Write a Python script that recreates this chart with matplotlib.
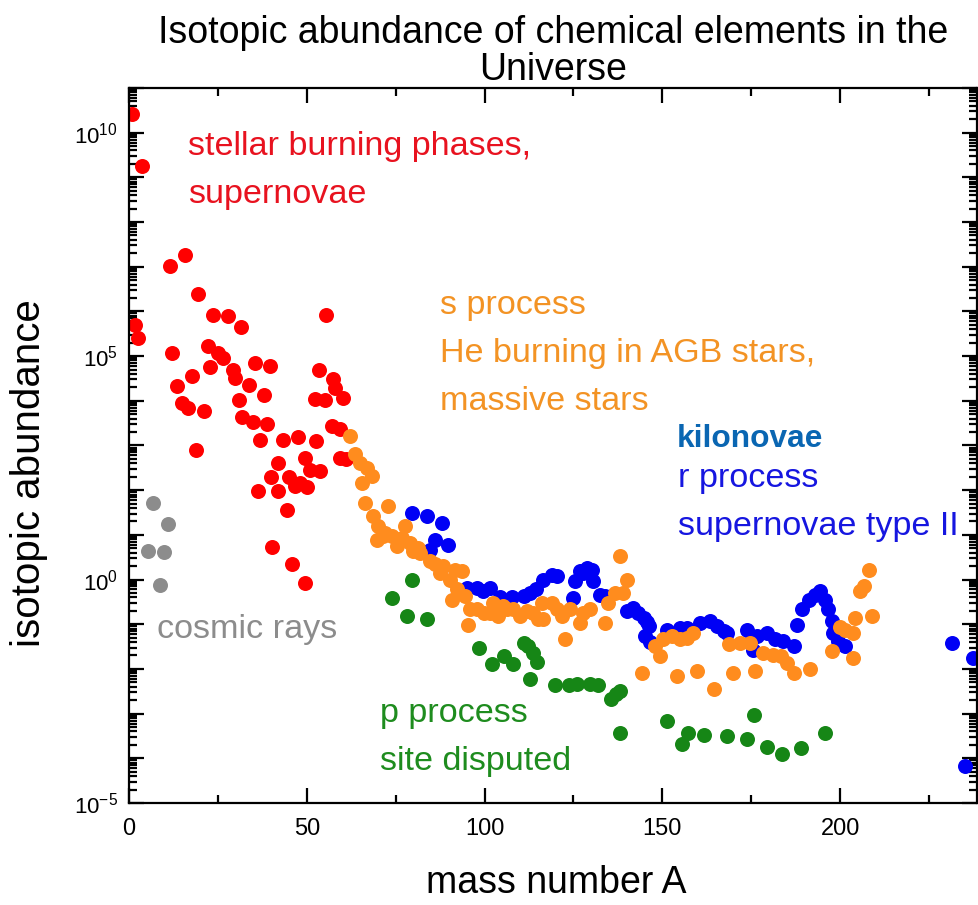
import matplotlib
matplotlib.use("Agg")
import matplotlib.pyplot as plt
import numpy as np
from matplotlib.ticker import LogLocator, FuncFormatter, MultipleLocator

plt.rcParams['font.family'] = ['Liberation Sans', 'DejaVu Sans']
plt.rcParams['mathtext.fontset'] = 'custom'
plt.rcParams['mathtext.rm'] = 'Liberation Sans'
plt.rcParams['mathtext.it'] = 'Liberation Sans:italic'

# mass number A and log10(abundance)
gray_A = [5.4, 6.8, 8.7, 9.9, 10.9]
gray_log = [0.63, 1.72, -0.13, 0.62, 1.25]

red_A = [0.8, 1.7, 2.6, 3.7, 11.5, 12.2, 13.4, 14.8, 15.8, 16.6, 17.6, 18.8, 19.5,
         21.0, 22.1, 22.8, 23.7, 25.1, 26.5, 27.8, 29.3, 29.8, 30.9, 31.5, 31.8,
         33.6, 35.0, 35.5, 36.4, 36.8, 38.0, 38.7, 39.6, 40.0, 40.1, 41.8, 42.0,
         43.4, 44.4, 45.0, 45.8, 46.7, 47.6, 48.1, 49.5, 49.5, 50.0, 50.9, 52.3,
         52.6, 53.5, 53.7, 55.3, 55.1, 57.5, 57.2, 58.0, 59.4, 59.4, 60.3, 61.0]
red_log = [10.42, 5.70, 5.41, 9.25, 7.02, 5.08, 4.34, 3.95, 7.26, 3.84, 4.56, 2.91, 6.39,
           3.78, 5.22, 4.75, 5.93, 5.07, 4.96, 5.90, 4.70, 4.51, 4.02, 5.65, 3.64,
           4.35, 3.52, 4.85, 1.98, 3.13, 4.13, 3.49, 4.78, 2.30, 0.72, 2.61, 1.98,
           3.12, 1.55, 2.30, 0.34, 2.09, 3.20, 2.16, 2.72, -0.07, 2.07, 2.46, 4.04,
           3.09, 4.70, 2.42, 5.91, 4.02, 4.49, 3.43, 4.29, 3.36, 2.72, 4.06, 2.70]

orange_A = [62.2, 63.6, 65.0, 66.9, 68.2, 65.4, 66.4, 68.7, 72.9, 70.1, 71.5, 72.0, 69.7,
            73.9, 75.3, 77.6, 76.7, 79.0, 80.0, 81.4, 81.9, 84.7, 86.1, 87.5, 88.4,
            90.3, 91.7, 93.6, 92.2, 90.7, 94.5, 95.9, 95.4, 97.8, 99.7, 101.5, 102.5,
            103.9, 105.3, 106.2, 108.1, 110.0, 111.9, 113.7, 115.1, 116.1, 116.5,
            118.9, 120.3, 121.7, 122.6, 124.0, 126.9, 127.8, 129.7, 133.9, 134.8,
            136.7, 138.1, 139.0, 140.0, 144.2, 148.0, 149.3, 150.3, 152.6, 154.0,
            155.0, 156.8, 158.7, 159.7, 164.4, 168.6, 170.0, 171.9, 174.7, 176.0,
            178.4, 181.2, 183.5, 185.0, 186.9, 191.6, 197.6, 200.0, 201.4, 203.7,
            203.7, 204.2, 205.6, 206.6, 208.0, 208.9]
orange_log = [3.21, 2.80, 2.61, 2.50, 2.31, 2.16, 1.72, 1.42, 1.64, 1.19, 0.97, 1.04, 0.89,
              0.97, 0.74, 1.19, 0.93, 0.82, 0.63, 0.71, 0.60, 0.41, 0.34, 0.15, 0.30,
              0.00, 0.22, 0.19, -0.22, -0.45, -0.37, -0.67, -1.01, -0.67, -0.75, -0.75, -0.52,
              -0.82, -0.60, -0.67, -0.67, -0.82, -0.71, -0.75, -0.89, -0.52, -0.89,
              -0.52, -0.67, -0.82, -1.34, -0.67, -0.97, -0.75, -0.67, -0.97, -0.52,
              -0.30, 0.52, -0.30, 0.00, -2.09, -1.49, -1.72, -1.34, -1.27, -2.16,
              -1.34, -1.30, -1.19, -2.05, -2.46, -1.45, -2.09, -1.42, -1.42, -2.05,
              -1.64, -1.68, -1.72, -1.86, -2.09, -2.01, -1.60, -1.07, -1.12, -1.19,
              -1.75, -0.86, -0.26, -0.15, 0.22, -0.82]

blue_A = [79.5, 83.7, 87.9, 84.7, 86.1, 89.8, 95.0, 97.8, 99.5, 101.5, 104.4, 107.6, 111.0,
          112.8, 114.5, 116.5, 118.9, 120.3, 125.0, 125.5, 126.9, 127.8, 128.8, 130.2,
          130.6, 132.5, 133.9, 140.0, 141.8, 143.2, 144.7, 145.6, 146.1, 145.2, 146.6,
          151.2, 155.0, 156.9, 160.6, 163.4, 165.3, 167.2, 168.1, 173.7, 175.6, 176.6,
          179.4, 181.7, 184.0, 186.9, 187.8, 189.2, 191.1, 193.0, 194.4, 195.8, 196.7,
          197.6, 198.1, 199.5, 201.4, 231.4, 237.5, 235.2]
blue_log = [1.49, 1.42, 1.27, 0.67, 0.89, 0.78, -0.20, -0.19, -0.25, -0.19, -0.39, -0.39, -0.37,
            -0.30, -0.22, -0.02, 0.11, 0.08, -0.41, -0.04, 0.19, 0.15, 0.26, 0.22,
            -0.04, -0.34, -0.37, -0.71, -0.63, -0.75, -0.85, -0.95, -1.04, -1.27, -1.40,
            -1.12, -1.08, -1.08, -0.97, -0.93, -1.04, -1.16, -1.19, -1.12, -1.57, -1.27,
            -1.19, -1.34, -1.38, -1.49, -1.01, -0.67, -0.45, -0.34, -0.26, -0.45, -0.67,
            -0.93, -1.19, -1.38, -1.49, -1.42, -1.75, -4.18]

green_A = [73.9, 78.1, 79.5, 83.7, 98.3, 102.2, 105.5, 108.0, 111.0, 112.3, 113.7, 114.7,
           112.8, 119.8, 123.8, 125.9, 129.7, 131.8, 135.5, 136.9, 138.1, 138.1, 151.2,
           155.5, 157.1, 161.7, 168.1, 173.7, 175.8, 179.4, 183.6, 188.9, 195.6]
green_log = [-0.41, -0.82, 0.00, -0.89, -1.53, -1.88, -1.70, -1.88, -1.42, -1.49, -1.64, -1.85,
             -2.22, -2.35, -2.35, -2.33, -2.33, -2.37, -2.68, -2.57, -2.50, -3.43, -3.17,
             -3.69, -3.43, -3.47, -3.49, -3.56, -3.02, -3.75, -3.91, -3.77, -3.43]

fig = plt.figure(figsize=(9.79, 9.05), dpi=100)
ax = fig.add_axes([0.1318, 0.1127, 0.8662, 0.7901])

ms = 10.8
ax.plot(gray_A, np.power(10.0, gray_log), 'o', ms=ms, mew=0, color='#8c8c8c')
ax.plot(red_A, np.power(10.0, red_log), 'o', ms=ms, mew=0, color='#ff0000')
ax.plot(blue_A, np.power(10.0, blue_log), 'o', ms=ms, mew=0, color='#0000f5')
ax.plot(orange_A, np.power(10.0, orange_log), 'o', ms=ms, mew=0, color='#ff8c1e')
ax.plot(green_A, np.power(10.0, green_log), 'o', ms=ms, mew=0, color='#168616')

ax.set_yscale('log')
ax.set_xlim(0, 238.5)
ax.set_ylim(1e-5, 1e11)

ax.xaxis.set_major_locator(MultipleLocator(50))
ax.xaxis.set_minor_locator(MultipleLocator(25))
ax.yaxis.set_major_locator(LogLocator(base=10, numticks=30))
ax.yaxis.set_minor_locator(LogLocator(base=10, subs=np.arange(2, 10), numticks=300))

def ylab(v, pos):
    e = int(round(np.log10(v)))
    if e in (-5, 0, 5, 10):
        return r'$\mathregular{10^{%d}}$' % e
    return ''

ax.yaxis.set_major_formatter(FuncFormatter(ylab))
ax.yaxis.set_minor_formatter(FuncFormatter(lambda v, p: ''))

ax.tick_params(which='both', direction='in', top=True, right=True, width=1.6)
ax.tick_params(which='major', length=10.5)
ax.tick_params(which='minor', length=5.5)
ax.tick_params(axis='x', labelsize=17, pad=11)
ax.tick_params(axis='y', labelsize=16, pad=8)
for s in ax.spines.values():
    s.set_linewidth(1.6)

ax.set_title("Isotopic abundance of chemical elements in the\nUniverse",
             fontsize=27, pad=4, linespacing=1.05)
ax.set_xlabel("mass number A", fontsize=27)
ax.xaxis.set_label_coords(0.5035, -0.087)
ax.xaxis.label.set_va('top')
ax.set_ylabel("isotopic abundance", fontsize=29)
ax.yaxis.set_label_coords(-0.0955, 0.462)

# multi-line labels: y is the baseline of the last line
fs = 24.6
ls = 1.7
ax.text(0.0699, 0.839, "stellar burning phases,\nsupernovae", transform=ax.transAxes,
        color='#e8121f', fontsize=fs, va='baseline', linespacing=ls)
ax.text(0.3667, 0.5497, "s process\nHe burning in AGB stars,\nmassive stars",
        transform=ax.transAxes, color='#f39324', fontsize=fs, va='baseline', linespacing=ls)
ax.text(0.6459, 0.4983, "kilonovae", transform=ax.transAxes, color='#0a66b2',
        fontsize=22.8, fontweight='bold', va='baseline')
ax.text(0.6474, 0.3748, "r process\nsupernovae type II", transform=ax.transAxes,
        color='#1616e0', fontsize=fs, va='baseline', linespacing=ls)
ax.text(0.0327, 0.2308, "cosmic rays", transform=ax.transAxes, color='#8c8c8c',
        fontsize=fs, va='baseline')
ax.text(0.296, 0.0462, "p process\nsite disputed", transform=ax.transAxes,
        color='#1e8c1e', fontsize=fs, va='baseline', linespacing=ls)

fig.savefig("out.png", dpi=100)
